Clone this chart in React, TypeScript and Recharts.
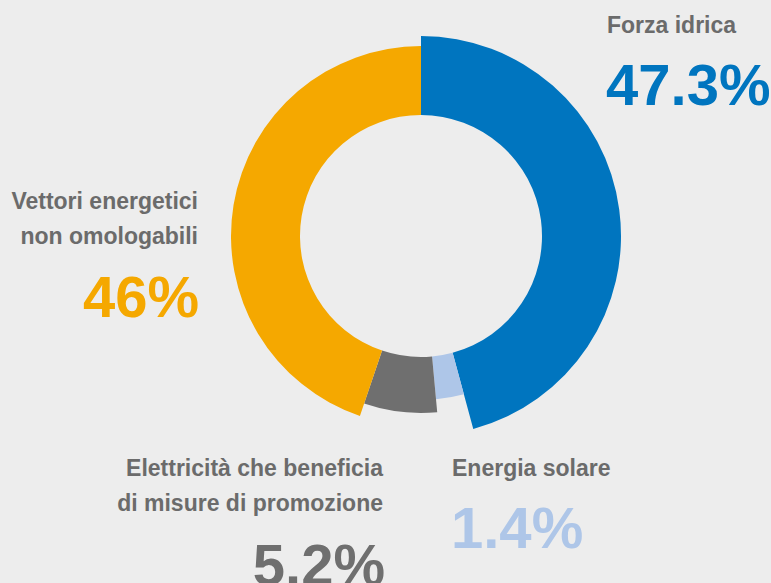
import { PieChart, Pie, Cell } from 'recharts';

// categories clockwise from the top
const categories = [
  'Forza idrica',
  'Energia solare',
  'Elettricità che beneficia di misure di promozione',
  'Vettori energetici non omologabili',
];
// printed shares
const shareLabels = ['47.3%', '1.4%', '5.2%', '46%'];
// shares as drawn in the ring (small slices are drawn a bit wider)
const drawnShares = [45.8, 2.75, 6.67, 44.8];

const data = categories.map((name, i) => ({ name, value: drawnShares[i] }));

const colors = ['#0075bf', '#aec6e8', '#6f6f6f', '#f5a800'];
const outerRadii = [200, 164, 177, 190];
const textGrey = '#6b6b6b';
const font = '"Liberation Sans", Arial, sans-serif';

export default function App() {
  return (
    <div
      style={{
        position: 'fixed',
        top: 0,
        left: 0,
        width: 771,
        height: 583,
        background: '#ededed',
        overflow: 'hidden',
      }}
    >
      <PieChart width={771} height={583} margin={{ top: 0, right: 0, bottom: 0, left: 0 }}>
        {outerRadii.map((r, k) => (
          <Pie
            key={k}
            data={data}
            dataKey="value"
            nameKey="name"
            cx={421}
            cy={236}
            innerRadius={121}
            outerRadius={r}
            startAngle={90}
            endAngle={-270}
            stroke="none"
            label={false}
            labelLine={false}
            isAnimationActive={false}
          >
            {data.map((_, i) => (
              <Cell key={i} fill={i === k ? colors[i] : 'none'} />
            ))}
          </Pie>
        ))}
      </PieChart>
      <svg
        width={771}
        height={583}
        style={{ position: 'absolute', top: 0, left: 0, pointerEvents: 'none' }}
        fontFamily={font}
        fontWeight="bold"
      >
        {/* Forza idrica */}
        <text x={607} y={33} fontSize={23} fill={textGrey}>{categories[0]}</text>
        <text x={606} y={105} fontSize={58} fill={colors[0]}>{shareLabels[0]}</text>

        {/* Vettori energetici */}
        <text x={198} y={209} fontSize={23} fill={textGrey} textAnchor="end">Vettori energetici</text>
        <text x={198} y={244} fontSize={23} fill={textGrey} textAnchor="end">non omologabili</text>
        <text x={199} y={317} fontSize={58} fill={colors[3]} textAnchor="end">{shareLabels[3]}</text>

        {/* Elettricità */}
        <text x={383} y={476} fontSize={23} fill={textGrey} textAnchor="end">Elettricità che beneficia</text>
        <text x={383} y={511} fontSize={23} fill={textGrey} textAnchor="end">di misure di promozione</text>
        <text x={385} y={585} fontSize={58} fill={colors[2]} textAnchor="end">{shareLabels[2]}</text>

        {/* Energia solare */}
        <text x={452} y={476} fontSize={23} fill={textGrey}>{categories[1]}</text>
        <text x={451} y={548} fontSize={58} fill={colors[1]}>{shareLabels[1]}</text>
      </svg>
    </div>
  );
}
